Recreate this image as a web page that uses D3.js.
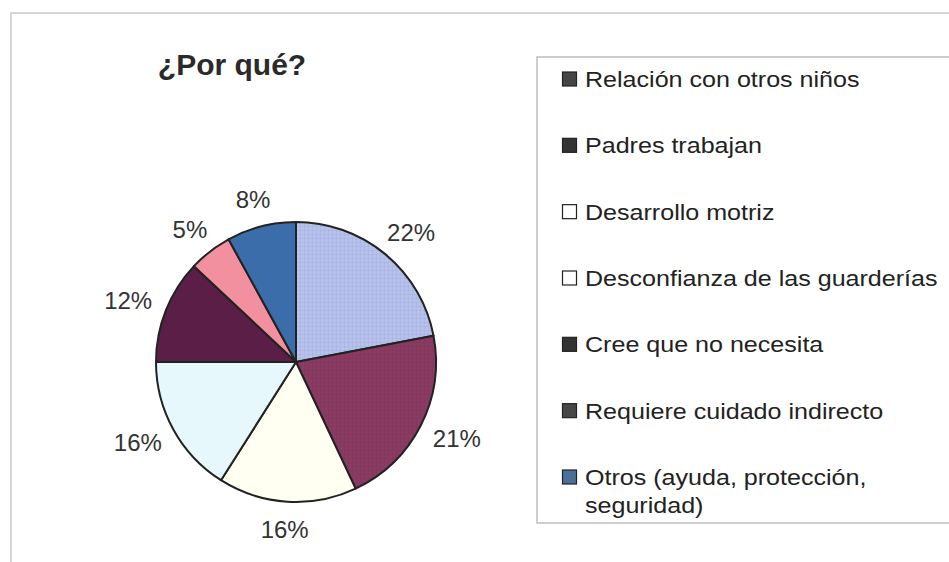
<!DOCTYPE html>
<html>
<head>
<meta charset="utf-8">
<script src="https://cdn.jsdelivr.net/npm/d3@7"></script>
<style>
  body { margin: 0; background: #fff; }
  svg { display: block; font-family: "Liberation Sans", Arial, sans-serif; }
</style>
</head>
<body>
<div id="chart"></div>
<script>
const title = '¿Por qué?';
const categories = [
  ['Relación con otros niños'],
  ['Padres trabajan'],
  ['Desarrollo motriz'],
  ['Desconfianza de las guarderías'],
  ['Cree que no necesita'],
  ['Requiere cuidado indirecto'],
  ['Otros (ayuda, protección,', 'seguridad)']
];
const values = [22, 21, 16, 16, 12, 5, 8];
const labels = ['22%', '21%', '16%', '16%', '12%', '5%', '8%'];

// slice fills, and the legend swatches as they appear in the scan
const sliceColors = ['#b6c1ee', '#8a3b63', '#fffff2', '#e7f8fc', '#5b1f47', '#f3909f', '#3b6daa'];
const hatched = [true, true, false, false, false, false, false];
const swatchColors = ['#454545', '#333333', '#ffffff', '#ffffff', '#333333', '#474747', '#4a7097'];

const W = 949, H = 562;
const svg = d3.select('#chart').append('svg')
  .attr('width', W)
  .attr('height', H);

// fine grid texture on the first two slices
const defs = svg.append('defs');
sliceColors.forEach((c, i) => {
  if (!hatched[i]) return;
  const p = defs.append('pattern')
    .attr('id', 'hatch' + i)
    .attr('patternUnits', 'userSpaceOnUse')
    .attr('width', 4)
    .attr('height', 4);
  p.append('rect').attr('width', 4).attr('height', 4).attr('fill', c);
  p.append('path')
    .attr('d', 'M0,0.5 H4 M0.5,0 V4')
    .attr('stroke', d3.color(c).darker(0.35))
    .attr('stroke-width', 0.6)
    .attr('stroke-opacity', 0.6);
});

// outer frame
svg.append('path')
  .attr('d', `M11,${H + 2} V13 H${W + 2}`)
  .attr('fill', 'none')
  .attr('stroke', '#c8c8c8')
  .attr('stroke-width', 1.5);

svg.append('text')
  .attr('x', 232)
  .attr('y', 75)
  .attr('text-anchor', 'middle')
  .style('font-size', '30px')
  .style('font-weight', 'bold')
  .style('fill', '#2a2a2a')
  .text(title);

// pie
const cx = 296, cy = 362, radius = 140;
const pie = d3.pie().sort(null).value(d => d)(values);
const arc = d3.arc().innerRadius(0).outerRadius(radius);

const g = svg.append('g').attr('transform', `translate(${cx},${cy})`);

g.selectAll('path.slice')
  .data(pie)
  .join('path')
  .attr('class', 'slice')
  .attr('d', arc)
  .attr('fill', (d, i) => hatched[i] ? `url(#hatch${i})` : sliceColors[i])
  .attr('stroke', '#222')
  .attr('stroke-width', 2)
  .attr('stroke-linejoin', 'round');

// labels sit outside the rim, the box pushed outward along the mid angle
const labelR = 158;
g.selectAll('text.label')
  .data(pie)
  .join('text')
  .attr('class', 'label')
  .attr('transform', (d, i) => {
    const a = (d.startAngle + d.endAngle) / 2;
    const hw = labels[i].length * 7.5, hh = 10;
    const x = Math.sin(a) * (labelR + hw);
    const y = -Math.cos(a) * (labelR + hh);
    return `translate(${x},${y})`;
  })
  .attr('text-anchor', 'middle')
  .attr('dy', '0.35em')
  .style('font-size', '24px')
  .style('fill', '#333')
  .text((d, i) => labels[i]);

// legend
svg.append('path')
  .attr('d', `M${W + 2},57 H537 V523 H${W + 2}`)
  .attr('fill', 'none')
  .attr('stroke', '#bdbdbd')
  .attr('stroke-width', 1.5);

const rowY = d3.scalePoint()
  .domain(d3.range(categories.length))
  .range([79, 477]);

const rows = svg.selectAll('g.legend-row')
  .data(categories)
  .join('g')
  .attr('class', 'legend-row')
  .attr('transform', (d, i) => `translate(562,${rowY(i)})`);

rows.append('rect')
  .attr('x', 0.5)
  .attr('y', -7)
  .attr('width', 14)
  .attr('height', 14)
  .attr('fill', (d, i) => swatchColors[i])
  .attr('stroke', '#222')
  .attr('stroke-width', 1.2);

rows.append('g')
  .attr('transform', 'translate(23,0) scale(1.14,1)')
  .append('text')
  .style('font-size', '22px')
  .style('fill', '#222')
  .selectAll('tspan')
  .data(d => d)
  .join('tspan')
  .attr('x', 0)
  .attr('y', (d, j) => j * 28)
  .attr('dy', '0.36em')
  .text(d => d);
</script>
</body>
</html>
